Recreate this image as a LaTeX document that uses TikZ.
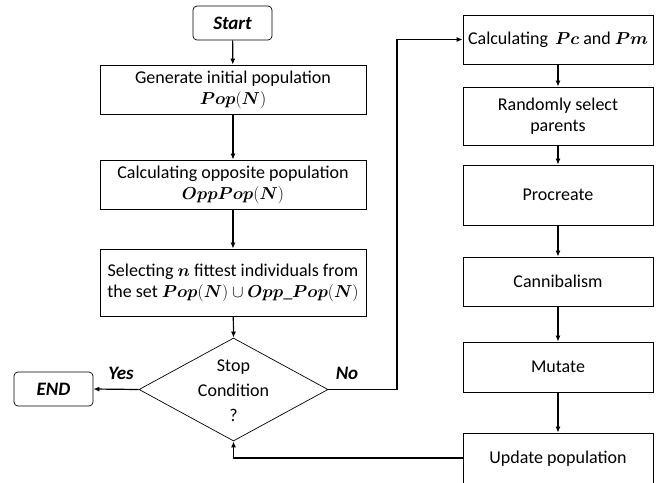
\documentclass[tikz,border=0pt]{standalone}
\usepackage{fontspec}
\usepackage{amsmath}
\usepackage{bm}
\setmainfont{Carlito}
\usetikzlibrary{shapes.geometric,arrows.meta}
\begin{document}
\begin{tikzpicture}[x=1pt,y=-1pt,
  box/.style={draw, line width=0.7pt, inner sep=0pt, align=center, font=\fontsize{18}{21}\selectfont},
  term/.style={draw, rounded corners=4pt, line width=0.7pt, inner sep=0pt, font=\fontsize{19}{22}\selectfont\bfseries\itshape},
  arr/.style={-{Latex[length=6pt,width=5pt]}, line width=1.2pt},
  lbl/.style={font=\fontsize{19}{22}\selectfont\bfseries\itshape}]
\useasboundingbox (0,0) rectangle (661,482);
\node[term, minimum width=79pt, minimum height=34pt] (start) at (232.5,23) {Start};
\node[box, minimum width=266pt, minimum height=49pt] (gen) at (233,89.5) {Generate initial population\\ $\bm{Pop}(\bm{N})$};
\node[box, minimum width=266pt, minimum height=49pt] (opp) at (233,184.5) {Calculating opposite population\\ $\bm{OppPop}(\bm{N})$};
\node[box, minimum width=266pt, minimum height=67pt] (sel) at (233,282.5) {Selecting $\bm{n}$ fittest individuals from\\ the set $\bm{Pop}(\bm{N})\cup\bm{Opp\_Pop}(\bm{N})$};
\node[draw, diamond, aspect=1.85, line width=0.7pt, inner sep=0pt, minimum width=189pt, minimum height=103pt] (stop) at (233.5,389.5) {};
\node[align=center, font=\fontsize{18}{25}\selectfont] (stoptxt) at (233.5,391) {Stop\\Condition\\?};
\node[term, minimum width=79pt, minimum height=34pt] (end) at (53.5,389) {END};
\node[lbl] (yes) at (121,373) {Yes};
\node[lbl] (no) at (347,373) {No};
\node[box, minimum width=190pt, minimum height=49pt] (pc) at (558,39.5) {Calculating \,$\bm{Pc}$ and $\bm{Pm}$};
\node[box, minimum width=190pt, minimum height=58pt] (rand) at (558,116) {Randomly select\\ parents};
\node[box, minimum width=190pt, minimum height=60pt] (proc) at (558,195) {Procreate};
\node[box, minimum width=190pt, minimum height=49pt] (can) at (558,281.5) {Cannibalism};
\node[box, minimum width=190pt, minimum height=50pt] (mut) at (558,367) {Mutate};
\node[box, minimum width=190pt, minimum height=52pt] (upd) at (558,459) {Update population};
\draw[arr] (start) -- (gen);
\draw[arr] (gen) -- (opp);
\draw[arr] (opp) -- (sel);
\draw[arr] (sel) -- (stop.north);
\draw[arr] (stop.west) -- (end.east);
\draw[arr] (stop.east) -- (397,389.5) |- (pc.west);
\draw[arr] (pc) -- (rand);
\draw[arr] (rand) -- (proc);
\draw[arr] (proc) -- (can);
\draw[arr] (can) -- (mut);
\draw[arr] (mut) -- (upd);
\draw[arr] (upd.west |- 0,458) -| (stop.south);
\end{tikzpicture}
\end{document}
